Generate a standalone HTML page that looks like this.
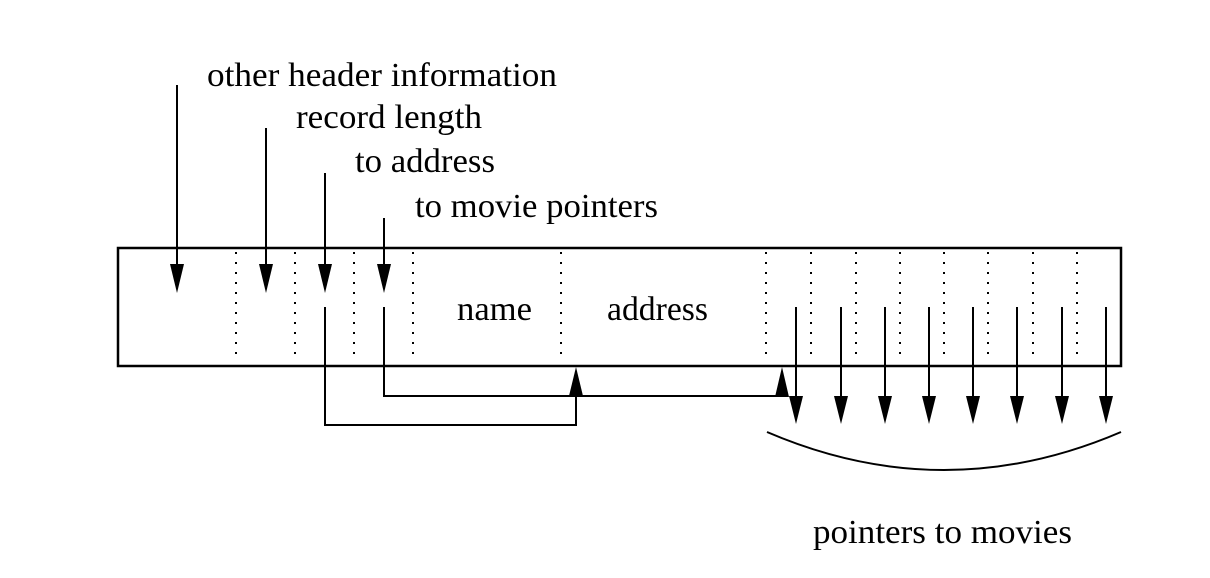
<!DOCTYPE html>
<html><head><meta charset="utf-8"><style>
html,body{margin:0;padding:0;background:#fff;}
svg{display:block;}
text{font-family:"Liberation Serif",serif;font-size:34px;fill:#000;}
</style></head><body>
<svg width="1210" height="578" viewBox="0 0 1210 578" xmlns="http://www.w3.org/2000/svg">
<g stroke="#000" fill="none">
<rect x="118" y="248" width="1003" height="118" stroke-width="2.5"/>
<g stroke-width="2" stroke-dasharray="2,8">
<line x1="236" y1="252" x2="236" y2="362"/>
<line x1="295" y1="252" x2="295" y2="362"/>
<line x1="354" y1="252" x2="354" y2="362"/>
<line x1="413" y1="252" x2="413" y2="362"/>
<line x1="561" y1="252" x2="561" y2="362"/>
<line x1="766" y1="252" x2="766" y2="362"/>
<line x1="811" y1="252" x2="811" y2="362"/>
<line x1="856" y1="252" x2="856" y2="362"/>
<line x1="900" y1="252" x2="900" y2="362"/>
<line x1="944" y1="252" x2="944" y2="362"/>
<line x1="988" y1="252" x2="988" y2="362"/>
<line x1="1033" y1="252" x2="1033" y2="362"/>
<line x1="1077" y1="252" x2="1077" y2="362"/>
</g>
<g stroke-width="2">
<line x1="177" y1="85" x2="177" y2="270"/>
<line x1="266" y1="128" x2="266" y2="270"/>
<line x1="325" y1="173" x2="325" y2="270"/>
<line x1="384" y1="218" x2="384" y2="270"/>
<polyline points="325,307 325,425 576,425 576,390"/>
<polyline points="384,307 384,396 782,396 782,390"/>
<line x1="796" y1="307" x2="796" y2="400"/>
<line x1="841" y1="307" x2="841" y2="400"/>
<line x1="885" y1="307" x2="885" y2="400"/>
<line x1="929" y1="307" x2="929" y2="400"/>
<line x1="973" y1="307" x2="973" y2="400"/>
<line x1="1017" y1="307" x2="1017" y2="400"/>
<line x1="1062" y1="307" x2="1062" y2="400"/>
<line x1="1106" y1="307" x2="1106" y2="400"/>
<path d="M767,432 Q944,508 1121,432"/>
</g>
</g>
<g fill="#000">
<polygon points="170,264 184,264 177,293"/>
<polygon points="259,264 273,264 266,293"/>
<polygon points="318,264 332,264 325,293"/>
<polygon points="377,264 391,264 384,293"/>
<polygon points="569,396 583,396 576,367"/>
<polygon points="775,397 789,397 782,367"/>
<polygon points="789,396 803,396 796,424"/>
<polygon points="834,396 848,396 841,424"/>
<polygon points="878,396 892,396 885,424"/>
<polygon points="922,396 936,396 929,424"/>
<polygon points="966,396 980,396 973,424"/>
<polygon points="1010,396 1024,396 1017,424"/>
<polygon points="1055,396 1069,396 1062,424"/>
<polygon points="1099,396 1113,396 1106,424"/>
</g>
<text x="207" y="86" textLength="350" lengthAdjust="spacingAndGlyphs">other header information</text>
<text x="296" y="128" textLength="186" lengthAdjust="spacingAndGlyphs">record length</text>
<text x="355" y="172" textLength="140" lengthAdjust="spacingAndGlyphs">to address</text>
<text x="415" y="217" textLength="243" lengthAdjust="spacingAndGlyphs">to movie pointers</text>
<text x="457" y="320" textLength="75" lengthAdjust="spacingAndGlyphs">name</text>
<text x="607" y="320" textLength="101" lengthAdjust="spacingAndGlyphs">address</text>
<text x="813" y="543" textLength="259" lengthAdjust="spacingAndGlyphs">pointers to movies</text>
</svg>
</body></html>
